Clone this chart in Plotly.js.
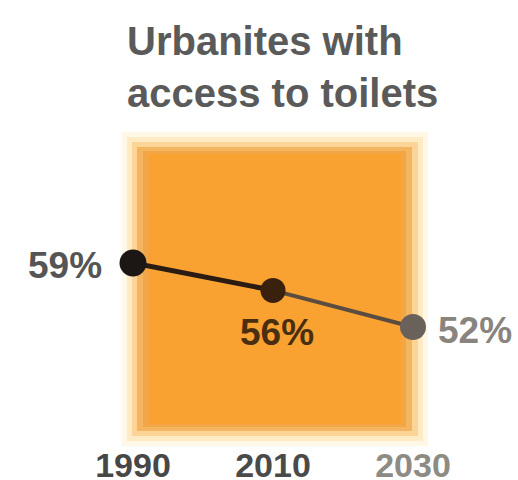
<!DOCTYPE html>
<html>
<head>
<meta charset="utf-8">
<script src="https://cdn.plot.ly/plotly-3.0.1.min.js"></script>
<style>html,body{margin:0;padding:0;background:#fff;}#chart{width:518px;height:480px;}</style>
</head>
<body>
<div id="chart"></div>
<script>
// Data
const years = [1990, 2010, 2030];
const shares = [59, 56, 52];
const labels = ["59%", "56%", "52%"];
const tickLabels = ["1990", "2010", "2030"];
const chartTitle = "Urbanites with<br>access to toilets";

// Styles
const markerColors = ["#1c1715", "#3a210d", "#6a625a"];
const segColors = ["#2a1c12", "#5a4c40"];
const labelColors = ["#555555", "#4a2e10", "#8a847e"];
const tickColors = ["#474747", "#4a4a4a", "#8d8b84"];
const labelShift = [[-68, -3], [4, -42], [62, -4]];

const traces = [];
for (let i = 0; i < years.length - 1; i++) {
  traces.push({
    x: [years[i], years[i + 1]],
    y: [shares[i], shares[i + 1]],
    mode: "lines",
    line: {color: segColors[i], width: i === 0 ? 5 : 4},
    hoverinfo: "skip",
    showlegend: false
  });
}
traces.push({
  x: years, y: shares, mode: "markers",
  marker: {size: [27, 25, 26], color: markerColors, opacity: 1, line: {width: 0}},
  showlegend: false, cliponaxis: false
});

const annotations = years.map((yr, i) => ({
  x: yr, y: shares[i], xref: "x", yref: "y",
  text: labels[i], showarrow: false,
  xshift: labelShift[i][0], yshift: labelShift[i][1],
  font: {family: "Liberation Sans, Arial, sans-serif", size: 37, color: labelColors[i], weight: "bold"}
}));

function px2x(p) { return (p - 133) / 284; }
function px2y(p) { return (433 - p) / 293; }
function rect(x0, y0, x1, y1, col) {
  return {type: "rect", xref: "paper", yref: "paper", layer: "below",
    x0: px2x(x0), x1: px2x(x1), y0: px2y(y1), y1: px2y(y0),
    fillcolor: col, line: {width: 0}};
}

const layout = {
  width: 518, height: 480,
  margin: {l: 133, r: 101, t: 140, b: 47},
  paper_bgcolor: "#ffffff", plot_bgcolor: "rgba(0,0,0,0)",
  title: {
    text: chartTitle, xref: "container", yref: "container",
    x: 127 / 518, xanchor: "left", y: 1 - 55 / 480, yanchor: "top",
    font: {family: "Liberation Sans, Arial, sans-serif", size: 40, color: "#5a5a5a", weight: "bold"}
  },
  xaxis: {
    range: [1990, 1990 + 40 * 284 / 280],
    showgrid: false, zeroline: false, showline: false,
    tickvals: years,
    ticktext: tickLabels.map((t, i) => '<span style="color:' + tickColors[i] + '">' + t + '</span>'),
    ticks: "outside", ticklen: 2, tickcolor: "rgba(0,0,0,0)",
    tickfont: {family: "Liberation Sans, Arial, sans-serif", size: 34, color: "#474747", weight: "bold"},
    fixedrange: true
  },
  yaxis: {
    range: [40.4, 72.45], visible: false, fixedrange: true
  },
  shapes: [
    rect(122, 132, 428, 446, "#FFF8E6"),
    rect(127, 137, 423, 441, "#FEEAC4"),
    rect(132, 142, 418, 436, "#FCD496"),
    rect(137, 147, 412, 431, "#F4B560"),
    rect(143, 151, 406, 427, "#F2A646"),
    rect(149, 154, 401, 424, "#F9A232")
  ],
  annotations: annotations
};

Plotly.newPlot("chart", traces, layout, {displayModeBar: false, staticPlot: true});
</script>
</body>
</html>
